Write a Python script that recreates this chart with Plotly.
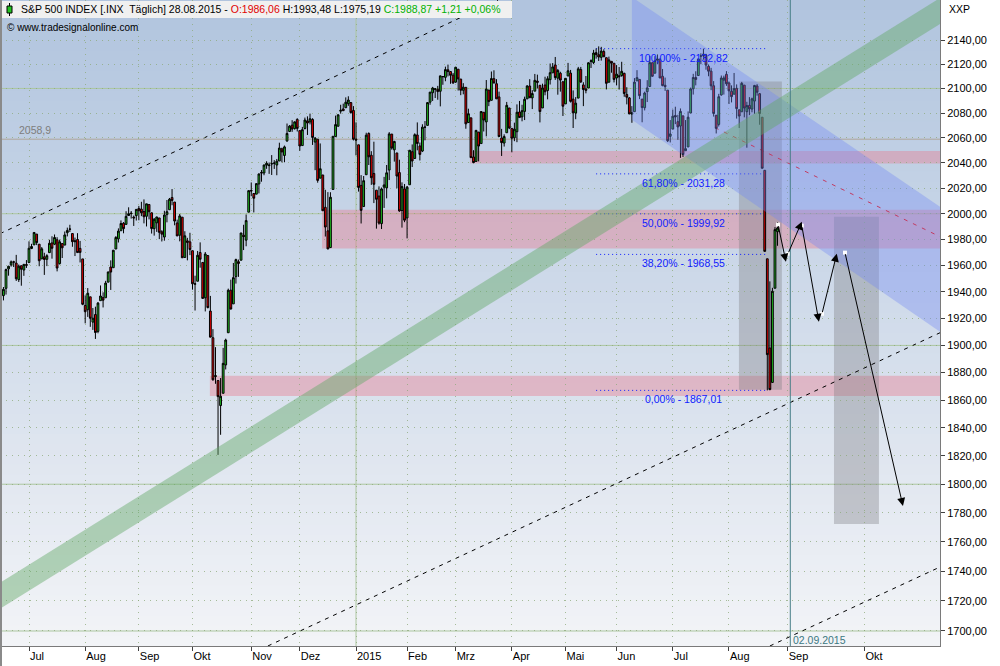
import numpy as np
import plotly.graph_objects as go

# ---------------- DATA ----------------
# Daily OHLC, S&P 500, 17.06.2014 .. 28.08.2015 (trading days, contiguous)
first_day_index = -10   # 17.06.2014 is 10 trading days before 01.07.2014 (index 0)

open_ = [
    # Jun 2014
    1937.2,1942.7,1957.5,1960.5,1962.9,1961.9,1949.3,1959.9,1956.6,1960.8,
    # Jul 2014
    1962.3,1973.1,1975.9,1984.2,1976.4,1965.1,1966.7,1964.8,1969.9,1977.4,1976.4,1979.8,1961.5,1976.9,1975.7,1985.3,1988.1,1984.6,1978.3,1980.0,1973.2,1965.1,
    # Aug 2014
    1929.8,1926.6,1936.3,1917.3,1923.0,1910.4,1933.4,1935.7,1935.6,1947.4,1958.9,1958.4,1972.7,1980.5,1986.8,1992.6,1991.7,1998.6,2000.5,1997.4,1998.5,
    # Sep 2014
    2004.1,2003.6,2001.7,1998.0,2007.2,2000.7,1988.4,1992.9,1996.7,1986.0,1981.9,1999.3,2003.1,2012.7,2009.1,1992.8,1983.3,1997.3,1966.2,1979.0,1978.2,
    # Oct 2014
    1971.4,1945.8,1948.1,1970.0,1962.4,1935.6,1967.7,1925.6,1905.7,1877.1,1874.2,1856.0,1864.9,1885.6,1909.4,1941.3,1931.0,1951.6,1963.0,1964.1,1983.3,1979.5,2001.2,
    # Nov 2014
    2018.2,2015.8,2015.3,2023.3,2032.4,2032.0,2038.2,2037.8,2039.2,2039.7,2038.3,2041.5,2051.2,2045.9,2057.5,2065.1,2070.2,2067.4,2074.8,
    # Dec 2014
    2065.8,2053.8,2067.5,2073.6,2072.8,2074.8,2056.6,2058.9,2027.9,2030.4,2005.0,1986.7,1973.8,2019.0,2061.0,2069.3,2081.5,2083.3,2084.3,2087.6,2088.5,2082.1,
    # Jan 2015
    2058.9,2054.4,2022.2,2005.6,2030.6,2063.5,2046.1,2031.6,2018.4,2013.8,1992.3,2020.8,2020.2,2034.3,2063.0,2050.4,2047.9,2032.3,2002.5,2019.4,
    # Feb 2015
    1996.7,2022.7,2048.9,2043.5,2062.3,2053.5,2049.4,2068.6,2070.0,2088.8,2096.5,2099.2,2099.3,2097.7,2109.8,2109.1,2115.3,2113.9,2110.9,
    # Mar 2015
    2105.2,2115.8,2107.7,2098.5,2100.9,2072.3,2076.1,2044.7,2041.1,2064.6,2055.4,2080.6,2072.8,2098.7,2090.3,2108.0,2103.9,2093.1,2059.9,2055.8,2064.1,2084.1,
    # Apr 2015
    2067.6,2060.0,2064.9,2080.8,2076.9,2081.3,2091.5,2102.0,2092.3,2097.8,2106.0,2102.6,2084.1,2102.8,2098.3,2107.2,2112.8,2119.3,2108.4,2112.5,2105.5,
    # May 2015
    2087.4,2110.2,2112.6,2091.3,2080.0,2092.1,2115.6,2102.9,2099.6,2100.4,2122.1,2121.3,2129.5,2127.8,2125.6,2130.4,2125.3,2105.1,2122.3,2120.7,
    # Jun 2015
    2108.6,2110.4,2110.6,2112.4,2095.1,2092.3,2079.1,2081.1,2106.2,2107.4,2091.3,2084.3,2097.4,2101.6,2121.1,2112.5,2123.2,2123.7,2110.0,2102.6,2098.6,2061.2,
    # Jul 2015
    2067.0,2078.0,2073.0,2069.5,2077.7,2049.7,2052.7,2080.0,2099.7,2109.0,2110.6,2126.8,2126.9,2127.6,2118.2,2114.2,2102.2,2078.2,2070.8,2094.7,2106.8,2111.6,
    # Aug 2015
    2104.5,2097.7,2095.3,2100.1,2082.6,2081.0,2102.7,2081.1,2086.2,2083.2,2089.7,2102.0,2095.7,2076.6,2034.1,1965.2,1898.1,1872.8,1942.8,1986.06,
]
high = [
    1943.7,1957.7,1959.9,1963.9,1963.7,1968.2,1960.8,1959.9,1961.0,1964.2,
    1978.6,1976.7,1985.6,1984.2,1976.4,1974.2,1969.8,1968.7,1979.8,1982.5,1983.9,1981.8,1979.9,1976.9,1986.2,1989.2,1991.4,1984.6,1981.5,1984.9,1978.9,1965.1,
    1937.4,1942.9,1936.3,1927.9,1928.9,1932.4,1944.9,1939.7,1948.4,1955.2,1964.0,1972.0,1982.6,1988.6,1994.8,1993.5,2001.95,2005.0,2002.1,1998.6,2003.4,
    2006.1,2009.3,2011.2,2007.7,2007.2,2001.0,1996.7,1997.7,1996.7,1987.2,2002.3,2010.7,2012.3,2019.3,2009.1,1995.4,1999.8,1997.3,1986.4,1981.3,1985.2,
    1971.4,1952.3,1971.2,1977.8,1962.4,1970.4,1967.7,1937.0,1912.1,1898.7,1874.2,1876.0,1898.2,1905.0,1942.5,1949.3,1962.0,1965.3,1964.6,1985.1,1991.4,1999.4,2018.2,
    2024.5,2016.0,2023.8,2031.6,2034.3,2038.7,2041.3,2040.3,2046.2,2042.2,2043.1,2056.1,2052.1,2053.8,2071.5,2070.2,2074.2,2073.3,2075.8,
    2065.8,2068.8,2076.3,2077.3,2079.5,2075.8,2060.6,2058.9,2055.5,2030.4,2018.7,2016.9,2016.8,2061.2,2077.9,2078.8,2086.7,2087.6,2092.7,2093.6,2088.5,2085.6,
    2072.4,2054.4,2030.3,2029.6,2064.1,2064.4,2049.3,2056.9,2018.4,2021.4,2020.5,2028.9,2038.3,2064.6,2063.0,2057.6,2047.9,2042.5,2024.6,2023.3,
    2021.7,2050.3,2054.7,2063.6,2072.4,2056.2,2070.9,2073.5,2088.5,2097.0,2101.3,2100.2,2102.1,2110.6,2110.1,2117.9,2119.6,2113.9,2112.7,
    2117.5,2115.8,2107.7,2104.3,2100.9,2083.5,2076.1,2050.1,2066.4,2064.6,2081.4,2080.6,2106.9,2098.7,2113.9,2114.9,2107.6,2097.4,2067.2,2062.8,2089.0,2084.1,
    2067.6,2072.2,2087.0,2089.8,2086.7,2093.3,2102.6,2107.6,2098.6,2111.9,2111.3,2102.6,2103.9,2109.6,2110.0,2120.5,2120.9,2125.9,2116.0,2113.7,2105.5,
    2108.4,2121.0,2115.2,2098.4,2092.9,2117.7,2117.7,2105.1,2110.2,2121.5,2123.9,2131.8,2133.0,2134.7,2134.3,2132.2,2125.3,2126.2,2122.3,2120.7,
    2119.2,2117.6,2121.9,2112.9,2101.0,2093.0,2085.6,2108.5,2115.0,2107.4,2091.3,2097.4,2106.8,2126.7,2121.6,2126.6,2128.0,2125.1,2116.0,2108.9,2098.6,2074.3,
    2082.8,2085.1,2078.6,2083.7,2077.7,2074.3,2081.3,2100.7,2112.0,2114.1,2124.4,2128.9,2132.8,2128.5,2119.6,2116.9,2106.0,2078.2,2095.6,2110.6,2110.5,2114.2,
    2105.7,2102.5,2112.7,2103.3,2082.6,2105.4,2102.7,2089.1,2092.9,2092.5,2102.9,2103.5,2096.2,2076.6,2034.1,1965.2,1948.0,1943.1,1989.6,1993.48,
]
low = [
    1933.6,1938.0,1952.3,1959.2,1958.9,1948.3,1947.5,1944.7,1952.2,1958.2,
    1962.3,1972.6,1975.9,1975.7,1959.5,1965.1,1952.9,1959.6,1969.9,1965.3,1975.7,1955.6,1960.8,1965.8,1975.7,1982.4,1985.8,1974.4,1967.3,1969.9,1962.4,1930.0,
    1916.4,1921.2,1913.8,1911.5,1904.8,1909.0,1933.4,1928.3,1935.6,1947.4,1941.5,1958.4,1972.7,1977.7,1986.8,1984.8,1991.7,1998.6,1996.2,1990.5,1994.7,
    1994.9,1998.1,1992.5,1990.1,1995.6,1984.6,1983.0,1985.9,1980.3,1978.5,1979.1,1993.3,2003.1,2006.6,1991.0,1982.8,1978.6,1966.0,1966.2,1964.0,1968.0,
    1941.7,1926.0,1948.1,1958.4,1935.1,1925.3,1927.6,1906.0,1874.1,1871.8,1820.7,1835.0,1864.9,1882.3,1909.4,1926.8,1931.0,1946.3,1951.4,1964.1,1971.9,1974.8,2001.2,
    2013.7,2001.0,2015.3,2015.9,2025.1,2030.2,2035.3,2031.3,2030.4,2035.2,2030.2,2041.5,2040.4,2040.5,2056.8,2065.1,2064.8,2066.6,2065.1,
    2049.6,2053.8,2066.7,2062.3,2070.8,2054.3,2034.2,2024.3,2027.9,2002.3,1982.3,1972.6,1973.8,2019.0,2061.0,2069.3,2079.5,2081.9,2084.3,2085.8,2079.5,2057.9,
    2046.0,2017.3,1992.4,2005.6,2030.6,2038.3,2022.6,2008.3,1988.4,1991.5,1988.1,2004.5,2012.0,2026.4,2050.5,2041.0,2019.9,2001.5,1989.2,1993.4,
    1980.9,2022.7,2036.7,2043.5,2050.0,2041.9,2048.6,2058.0,2070.0,2086.7,2089.8,2092.2,2090.8,2085.4,2103.0,2105.9,2109.9,2103.8,2103.8,
    2104.5,2098.3,2094.5,2095.2,2067.3,2072.2,2044.2,2039.7,2041.1,2041.2,2055.4,2065.1,2061.2,2085.6,2090.3,2104.4,2091.5,2061.1,2045.5,2053.0,2064.1,2067.0,
    2048.4,2057.3,2056.5,2076.1,2073.3,2074.3,2091.5,2092.3,2083.2,2097.8,2100.0,2072.4,2084.1,2094.4,2091.1,2103.2,2112.8,2107.0,2094.9,2097.4,2077.6,
    2087.4,2110.2,2088.5,2067.9,2075.0,2092.1,2104.6,2085.6,2096.0,2100.4,2116.8,2120.0,2124.5,2122.6,2122.9,2126.1,2099.2,2105.1,2112.9,2104.9,
    2102.5,2099.1,2109.6,2093.2,2087.0,2079.1,2072.1,2081.1,2106.2,2091.3,2072.5,2082.1,2088.9,2101.6,2109.5,2112.5,2119.9,2108.6,2101.8,2098.0,2056.6,2056.3,
    2067.0,2071.0,2058.4,2044.0,2044.7,2049.7,2052.7,2080.0,2095.0,2102.5,2110.6,2119.9,2123.7,2115.4,2110.0,2098.6,2077.1,2063.5,2069.1,2094.1,2095.0,2102.1,
    2087.3,2088.6,2095.3,2075.5,2067.9,2081.0,2076.5,2052.1,2078.3,2080.6,2079.3,2094.1,2070.5,2035.7,1970.9,1867.01,1867.1,1872.8,1942.8,1975.19,
]
close = [
    1941.99,1956.98,1959.48,1962.87,1962.61,1949.98,1959.53,1957.22,1960.96,1960.23,
    1973.32,1974.62,1985.44,1977.65,1963.71,1972.83,1964.68,1967.57,1977.10,1973.28,1981.57,1958.12,1978.22,1973.63,1983.53,1987.01,1987.98,1978.34,1978.91,1969.95,1970.07,1930.67,
    1925.15,1938.99,1920.21,1920.24,1909.57,1931.59,1936.92,1933.75,1946.72,1955.18,1955.06,1971.74,1981.60,1986.51,1992.37,1988.40,1997.92,2000.02,2000.12,1996.74,2003.37,
    2002.28,2000.72,1997.65,2007.71,2001.54,1988.44,1995.69,1997.45,1985.54,1984.13,1998.98,2001.57,2011.36,2010.40,1994.29,1982.77,1998.30,1965.99,1982.85,1977.80,1972.29,
    1946.16,1946.17,1967.90,1964.82,1935.10,1968.89,1928.21,1906.13,1874.74,1877.70,1862.49,1862.76,1886.76,1904.01,1941.28,1927.11,1950.82,1964.58,1961.63,1985.05,1982.30,1994.65,2018.05,
    2017.81,2012.10,2023.57,2031.21,2031.92,2038.26,2039.68,2038.25,2039.33,2039.82,2041.32,2051.80,2048.72,2052.75,2063.50,2069.41,2067.03,2072.83,2067.56,
    2053.44,2066.55,2074.33,2071.92,2075.37,2060.31,2059.82,2026.14,2035.33,2002.33,1989.63,1972.74,2012.89,2061.23,2070.65,2078.54,2082.17,2081.88,2088.77,2090.57,2080.35,2058.90,
    2058.20,2020.58,2002.61,2025.90,2062.14,2044.81,2028.26,2023.03,2011.27,1992.67,2019.42,2022.55,2032.12,2063.15,2051.82,2057.09,2029.55,2002.16,2021.25,1994.99,
    2020.85,2050.03,2041.51,2062.52,2055.47,2046.74,2068.59,2068.53,2088.48,2096.99,2100.34,2099.68,2097.45,2110.30,2109.66,2115.48,2113.86,2110.74,2104.50,
    2117.39,2107.78,2098.53,2101.04,2071.26,2079.43,2044.16,2040.24,2065.95,2053.40,2081.19,2074.28,2099.50,2089.27,2108.10,2104.42,2091.50,2061.05,2056.15,2061.02,2086.24,2067.89,
    2059.69,2066.96,2080.62,2076.33,2081.90,2091.18,2102.06,2092.43,2095.84,2106.63,2104.99,2081.18,2100.40,2097.29,2107.96,2112.93,2117.69,2108.92,2114.76,2106.85,2085.51,
    2108.29,2114.49,2089.46,2080.15,2088.00,2116.10,2105.33,2099.12,2098.48,2121.10,2122.73,2129.20,2127.83,2125.85,2130.82,2126.06,2104.20,2123.48,2120.79,2107.39,
    2111.73,2109.60,2114.07,2095.84,2092.83,2079.28,2080.15,2105.20,2108.86,2094.11,2084.43,2096.29,2100.44,2121.24,2109.99,2122.85,2124.20,2108.58,2102.31,2101.49,2057.64,2063.11,
    2077.42,2076.78,2068.76,2081.34,2046.68,2051.31,2076.62,2099.60,2108.95,2107.40,2124.29,2126.64,2128.28,2119.21,2114.15,2102.15,2079.65,2067.64,2093.25,2108.57,2108.63,2103.84,
    2098.04,2093.32,2099.84,2083.56,2077.57,2104.18,2084.07,2086.05,2083.39,2091.54,2102.44,2096.92,2079.61,2035.73,1970.89,1893.21,1867.61,1940.51,1987.66,1988.87,
]
assert len(open_) == len(high) == len(low) == len(close), (len(open_), len(high), len(low), len(close))

# month ticks (trading-day index; future part in calendar days)
month_tick_index = [0, 22, 43, 64, 87, 106, 128, 148, 167, 189, 210, 230, 252, 274, 297, 327]
month_tick_text = ["Jul", "Aug", "Sep", "Okt", "Nov", "Dez", "2015", "Feb", "Mrz", "Apr",
                   "Mai", "Jun", "Jul", "Aug", "Sep", "Okt"]
year_2015_index = 128
marker_day_index = 298          # 02.09.2015
marker_day_text = "02.09.2015"

price_ticks = [1700, 1720, 1740, 1760, 1780, 1800, 1820, 1840, 1860, 1880, 1900, 1920,
               1940, 1960, 1980, 2000, 2020, 2040, 2060, 2080, 2100, 2120, 2140]
price_tick_text = ["1700,00", "1720,00", "1740,00", "1760,00", "1780,00", "1800,00", "1820,00",
                   "1840,00", "1860,00", "1880,00", "1900,00", "1920,00", "1940,00", "1960,00",
                   "1980,00", "2000,00", "2020,00", "2040,00", "2060,00", "2080,00", "2100,00",
                   "2120,00", "2140,00"]
major_price_lines = [1700, 1800, 1900, 2000, 2100]

# Fibonacci retracement
fib_levels = [2132.82, 2031.28, 1999.92, 1968.55, 1867.01]
fib_labels = ["100,00% - 2132,82", "61,80% - 2031,28", "50,00% - 1999,92",
              "38,20% - 1968,55", "0,00% - 1867,01"]
fib_start, fib_end, fib_label_at = 222, 288.5, 256

ref_level = 2058.9
ref_label = "2058,9"

# support zones (start index, low, high)
zone_start = [172.6, 114.7, 70.8]
zone_low = [2039.5, 1973.0, 1863.0]
zone_high = [2049.5, 2003.0, 1877.7]

# grey time/price boxes (x0, x1, low, high)
box_x0 = [277.9, 315.1]
box_x1 = [294.7, 332.7]
box_low = [1867.5, 1772.3]
box_high = [2105.7, 1997.7]

# trend lines (x0, p0, x1, p1)
dashed_channel = [(-11.35, 1984.5, 183.6, 2173.6),
                  (93.5, 1690.1, 356.6, 1909.4),
                  (290.0, 1690.1, 356.6, 1742.9)]
red_trend = (268.5, 2068.2, 356.6, 1982.2)

# descending blue channel polygon
blue_x = [236.0, 356.6, 356.6, 236.0]
blue_p = [2176.1, 2005.5, 1910.1, 2074.6]
# rising green band polygon
green_x = [-11.35, 356.6, 356.6, -11.35]
green_p = [1732.3, 2175.3, 2153.4, 1714.8]

# forecast path arrows
fc_start_x = [293.2, 297.1, 302.5, 310.4, 319.4]
fc_start_p = [1991.5, 1969.1, 1990.7, 1923.6, 1969.9]
fc_end_x = [296.3, 302.5, 309.2, 316.2, 342.1]
fc_end_p = [1963.0, 1993.8, 1917.6, 1969.1, 1784.8]

# ---------------- FIGURE ----------------
W, H = 1000, 666
ML, MR, MT, MB = 0, 60, 0, 20
PW, PH = W - ML - MR, H - MT - MB
x_range = [-11.35, 356.6]
y_range = [3.22791, 3.33718]

def px(xp):  # pixel -> paper x
    return (xp - ML) / PW

def py(yp):  # pixel -> paper y
    return 1 - (yp - MT) / PH

font_main = "Liberation Sans, Arial, sans-serif"
x_idx = np.arange(len(close)) + first_day_index

fig = go.Figure()

fig.add_trace(go.Scatter(x=blue_x, y=blue_p, fill="toself", mode="lines",
                         line=dict(width=0), fillcolor="rgba(115,135,245,0.36)",
                         hoverinfo="skip", showlegend=False))
fig.add_trace(go.Scatter(x=green_x, y=green_p, fill="toself", mode="lines",
                         line=dict(width=0), fillcolor="rgba(100,168,105,0.45)",
                         hoverinfo="skip", showlegend=False))

fig.add_trace(go.Candlestick(
    x=x_idx, open=open_, high=high, low=low, close=close,
    increasing=dict(fillcolor="#22c322", line=dict(color="black", width=1)),
    decreasing=dict(fillcolor="#f00000", line=dict(color="black", width=1)),
    whiskerwidth=0, showlegend=False, hoverinfo="skip"))

fig.add_trace(go.Scatter(x=fc_start_x, y=fc_start_p, mode="markers",
                         marker=dict(symbol="square", size=4, color="white", line=dict(width=0)),
                         hoverinfo="skip", showlegend=False))

shapes = []
# background gradient (each band reaches the bottom, so no seams)
top_c = np.array([176, 196, 222])
bot_c = np.array([243, 244, 247])
N = 64
for i in range(N):
    t = (i + 0.5) / N
    c = top_c + (bot_c - top_c) * t
    shapes.append(dict(type="rect", xref="paper", yref="paper", x0=0, x1=1,
                       y0=1 - i / N, y1=0, layer="below",
                       line=dict(width=0),
                       fillcolor="rgb(%d,%d,%d)" % tuple(c.round().astype(int))))
# major solid price lines
for v in major_price_lines:
    shapes.append(dict(type="line", xref="paper", x0=0, x1=1, yref="y", y0=v, y1=v,
                       layer="below", line=dict(color="rgb(172,198,160)", width=1)))
shapes.append(dict(type="line", xref="x", x0=year_2015_index, x1=year_2015_index,
                   yref="paper", y0=0, y1=1, layer="below",
                   line=dict(color="rgb(172,198,160)", width=1)))
# zones
for xs, lo, hi in zip(zone_start, zone_low, zone_high):
    shapes.append(dict(type="rect", xref="x", x0=xs, x1=x_range[1] + 5, yref="y", y0=lo, y1=hi,
                       layer="below", line=dict(width=0), fillcolor="rgba(232,120,140,0.40)"))
for a, b, lo, hi in zip(box_x0, box_x1, box_low, box_high):
    shapes.append(dict(type="rect", xref="x", x0=a, x1=b, yref="y", y0=lo, y1=hi,
                       layer="below", line=dict(width=0), fillcolor="rgba(125,125,130,0.36)"))
# reference level
shapes.append(dict(type="line", xref="paper", x0=0, x1=1, yref="y", y0=ref_level, y1=ref_level,
                   layer="below", line=dict(color="rgb(176,166,156)", width=1)))
# dashed channel
for (a, pa, b, pb) in dashed_channel:
    shapes.append(dict(type="line", xref="x", yref="y", x0=a, y0=pa, x1=b, y1=pb,
                       layer="below", line=dict(color="black", width=1, dash="4px,5px")))
a, pa, b, pb = red_trend
shapes.append(dict(type="line", xref="x", yref="y", x0=a, y0=pa, x1=b, y1=pb,
                   layer="below", line=dict(color="#ee1111", width=1, dash="4px,6px")))
# fib lines
for lv in fib_levels:
    shapes.append(dict(type="line", xref="x", yref="y", x0=fib_start, x1=fib_end, y0=lv, y1=lv,
                       layer="below", line=dict(color="#1020ff", width=1, dash="1px,3px")))
# marker day line
shapes.append(dict(type="line", xref="x", x0=marker_day_index, x1=marker_day_index,
                   yref="paper", y0=0, y1=1, layer="above",
                   line=dict(color="rgb(70,125,135)", width=1)))
# header box + icon
shapes.append(dict(type="rect", xref="paper", yref="paper", x0=px(2), x1=px(512),
                   y0=py(1), y1=py(18), layer="above", line=dict(width=0), fillcolor="#f0f0f0"))
shapes.append(dict(type="line", xref="paper", yref="paper", x0=px(9.5), x1=px(9.5),
                   y0=py(3), y1=py(16), layer="above", line=dict(color="black", width=1)))
shapes.append(dict(type="rect", xref="paper", yref="paper", x0=px(7), x1=px(12),
                   y0=py(6), y1=py(13), layer="above", line=dict(color="black", width=1),
                   fillcolor="#22c322"))
# left frame
shapes.append(dict(type="rect", xref="paper", yref="paper", x0=0, x1=px(2),
                   y0=py(H), y1=1, layer="above", line=dict(width=0), fillcolor="#8a8a8a"))

annotations = []
for lv, txt in zip(fib_levels, fib_labels):
    annotations.append(dict(x=fib_label_at, y=np.log10(lv), xref="x", yref="y", text=txt,
                            showarrow=False, xanchor="center", yanchor="top", yshift=-1,
                            font=dict(family=font_main, size=10.5, color="#1020ff")))
for sx, sp, ex, ep in zip(fc_start_x, fc_start_p, fc_end_x, fc_end_p):
    annotations.append(dict(x=ex, y=np.log10(ep), xref="x", yref="y",
                            ax=sx, ay=np.log10(sp), axref="x", ayref="y",
                            text="", showarrow=True, arrowhead=2, arrowsize=1.6,
                            arrowwidth=1, arrowcolor="black", standoff=0, startstandoff=0))
annotations.append(dict(x=marker_day_index, y=0, xref="x", yref="paper", text=marker_day_text,
                        showarrow=False, xanchor="left", yanchor="bottom", xshift=1, yshift=-2,
                        font=dict(family=font_main, size=10.5, color="rgb(60,120,130)")))
annotations.append(dict(x=px(17), y=np.log10(ref_level), xref="paper", yref="y", text=ref_label,
                        showarrow=False, xanchor="left", yanchor="bottom", yshift=1,
                        font=dict(family=font_main, size=10.5, color="rgb(125,125,125)")))

def de(v):
    return ("%.2f" % v).replace(".", ",")

chg = close[-1] - close[-2]
pct = chg / close[-2] * 100
header = ("S&P 500 INDEX [.INX\u00a0 Täglich] 28.08.2015 - "
          "<span style='color:#e00000'>O:%s</span> H:%s L:%s "
          "<span style='color:#00b000'>C:%s +%s +%s%%</span>"
          % (de(open_[-1]), de(high[-1]), de(low[-1]), de(close[-1]), de(chg), de(pct)))
annotations.append(dict(x=px(19), y=py(9.5), xref="paper", yref="paper", text=header,
                        showarrow=False, xanchor="left", yanchor="middle",
                        font=dict(family=font_main, size=10.5, color="black")))
annotations.append(dict(x=px(5), y=py(27), xref="paper", yref="paper",
                        text="© www.tradesignalonline.com", showarrow=False,
                        xanchor="left", yanchor="middle",
                        font=dict(family=font_main, size=10, color="black")))
annotations.append(dict(x=px(947), y=py(9), xref="paper", yref="paper", text="XXP",
                        showarrow=False, xanchor="left", yanchor="middle",
                        font=dict(family=font_main, size=10.5, color="black")))

grid_col = "rgba(140,168,120,0.75)"
fig.update_layout(
    width=W, height=H, autosize=False,
    margin=dict(l=ML, r=MR, t=MT, b=MB, pad=0),
    paper_bgcolor="white", plot_bgcolor="rgba(0,0,0,0)",
    showlegend=False, hovermode=False, boxgap=0.0,
    shapes=shapes, annotations=annotations,
    font=dict(family=font_main, size=11, color="black"),
    xaxis=dict(range=x_range, tickmode="array", tickvals=month_tick_index,
               ticktext=month_tick_text, ticks="outside", ticklen=4, tickcolor="#404040",
               ticklabelposition="outside right", showgrid=True, griddash="1px,5px",
               gridcolor=grid_col, gridwidth=1, showline=True,
               linecolor="#7a7a7a", linewidth=1, zeroline=False, rangeslider=dict(visible=False),
               tickfont=dict(family=font_main, size=11), fixedrange=True),
    yaxis=dict(type="log", range=y_range, side="right", tickmode="array",
               tickvals=price_ticks, ticktext=price_tick_text, ticks="outside", ticklen=4,
               tickcolor="#404040", showgrid=True, griddash="1px,5px",
               gridcolor=grid_col, gridwidth=1, showline=True,
               linecolor="#7a7a7a", linewidth=1, zeroline=False,
               tickfont=dict(family=font_main, size=11), fixedrange=True),
)

fig.write_html("out.html", config={"displayModeBar": False},
               post_script="document.body.style.margin='0';document.body.style.overflow='hidden';")
